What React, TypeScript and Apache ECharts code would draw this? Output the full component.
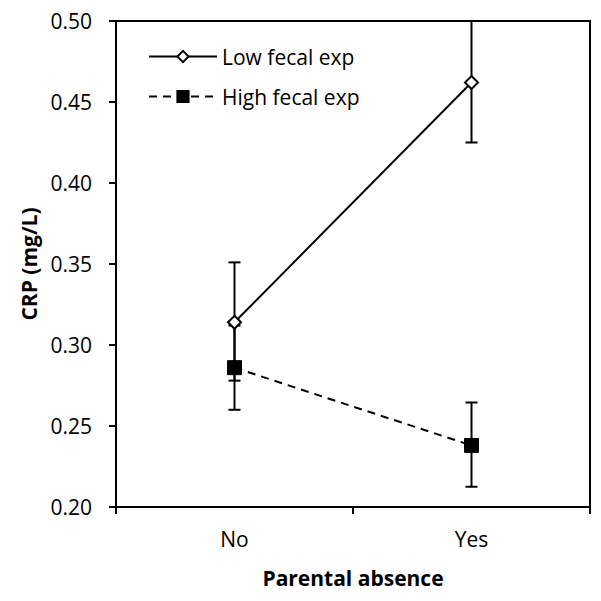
import React, { useEffect, useRef } from "react";
import * as echarts from "echarts";

const categories = ["No", "Yes"];
const lowMeans = [0.314, 0.462];
const lowErrLow = [0.278, 0.425];
const lowErrHigh = [0.351, 0.5];
const highMeans = [0.286, 0.238];
const highErrLow = [0.26, 0.2125];
const highErrHigh = [0.312, 0.2645];
const yTicks = { min: 0.2, max: 0.5, interval: 0.05 };

const FONT = "'Open Sans', 'Noto Sans', sans-serif";
const FS = 21;

function errorSeries(lo: number[], hi: number[], name: string) {
  return {
    type: "custom",
    name,
    z: 1,
    data: categories.map((_, i) => [i, lo[i], hi[i]]),
    renderItem: (params: any, api: any) => {
      const x = api.value(0);
      const pLo = api.coord([x, api.value(1)]);
      const pHi = api.coord([x, api.value(2)]);
      const half = 6;
      const style = { stroke: "#000", lineWidth: 2 };
      return {
        type: "group",
        children: [
          { type: "line", shape: { x1: pLo[0], y1: pLo[1], x2: pHi[0], y2: pHi[1] }, style },
          { type: "line", shape: { x1: pLo[0] - half, y1: pLo[1], x2: pLo[0] + half, y2: pLo[1] }, style },
          { type: "line", shape: { x1: pHi[0] - half, y1: pHi[1], x2: pHi[0] + half, y2: pHi[1] }, style },
        ],
      };
    },
    silent: true,
  };
}

export default function App() {
  const ref = useRef<HTMLDivElement>(null);
  useEffect(() => {
    if (!ref.current) return;
    const chart = echarts.init(ref.current, null, { renderer: "svg" });
    chart.setOption({
      animation: false,
      backgroundColor: "#fff",
      textStyle: { fontFamily: FONT },
      grid: {
        left: 116,
        right: 11,
        top: 21,
        bottom: 94,
        show: true,
        borderColor: "#000",
        borderWidth: 2,
      },
      legend: {
        orient: "vertical",
        left: 143,
        top: 41,
        itemWidth: 68,
        itemHeight: 14,
        itemGap: 19,
        textStyle: { fontSize: FS, color: "#000", fontFamily: FONT },
        data: ["Low fecal exp", "High fecal exp"],
      },
      xAxis: {
        type: "category",
        data: categories,
        boundaryGap: true,
        axisLine: { lineStyle: { color: "#000", width: 2 } },
        axisTick: { show: true, length: 7, alignWithLabel: false, lineStyle: { color: "#000", width: 2 } },
        axisLabel: { fontSize: FS, color: "#000", margin: 21, fontFamily: FONT },
        name: "Parental absence",
        nameLocation: "middle",
        nameGap: 60,
        nameTextStyle: { fontSize: FS, fontWeight: "bold", color: "#000", fontFamily: FONT },
        splitLine: { show: false },
      },
      yAxis: {
        type: "value",
        min: yTicks.min,
        max: yTicks.max,
        interval: yTicks.interval,
        axisLine: { show: true, lineStyle: { color: "#000", width: 2 } },
        axisTick: { show: true, length: 7, lineStyle: { color: "#000", width: 2 } },
        axisLabel: {
          fontSize: FS,
          color: "#000",
          margin: 24,
          fontFamily: FONT,
          formatter: (v: number) => v.toFixed(2),
        },
        splitLine: { show: false },
        name: "CRP (mg/L)",
        nameLocation: "middle",
        nameGap: 75,
        nameTextStyle: { fontSize: FS, fontWeight: "bold", color: "#000", fontFamily: FONT },
      },
      series: [
        errorSeries(lowErrLow, lowErrHigh, "lowErr"),
        errorSeries(highErrLow, highErrHigh, "highErr"),
        {
          type: "line",
          name: "Low fecal exp",
          data: lowMeans,
          z: 3,
          symbol: "diamond",
          symbolSize: 13,
          showSymbol: true,
          lineStyle: { color: "#000", width: 2, type: "solid" },
          itemStyle: { color: "#fff", borderColor: "#000", borderWidth: 2 },
        },
        {
          type: "line",
          name: "High fecal exp",
          data: highMeans,
          z: 3,
          symbol: "rect",
          symbolSize: 14,
          showSymbol: true,
          lineStyle: { color: "#000", width: 2, type: [8, 6] },
          itemStyle: { color: "#000", borderColor: "#000", borderWidth: 1 },
        },
      ],
    });
    return () => chart.dispose();
  }, []);
  return (
    <div
      ref={ref}
      style={{ position: "fixed", left: 0, top: 0, width: 601, height: 601, background: "#fff" }}
    />
  );
}
